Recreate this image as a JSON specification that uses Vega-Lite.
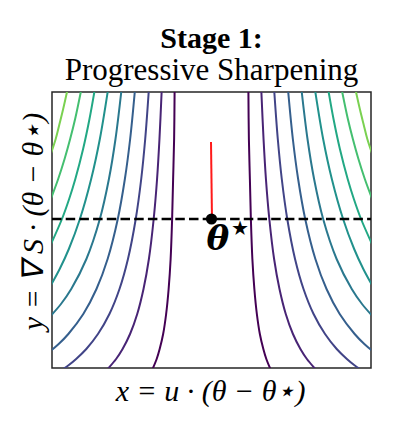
{
  "$schema": "https://vega.github.io/schema/vega-lite/v6.json",
  "width": 319,
  "height": 276,
  "autosize": {"type": "none"},
  "padding": {"left": 52, "top": 92, "right": 23, "bottom": 62},
  "background": "white",
  "config": {"view": {"stroke": "#262626", "strokeWidth": 1.5}, "font": "Liberation Serif"},
  "title": {
    "text": "Stage 1:",
    "subtitle": "Progressive Sharpening",
    "font": "Liberation Serif",
    "fontSize": 30,
    "fontWeight": "bold",
    "color": "black",
    "subtitleFont": "Liberation Serif",
    "subtitleFontSize": 31,
    "subtitleColor": "black",
    "subtitlePadding": 2,
    "offset": 6,
    "anchor": "middle",
    "frame": "group"
  },
  "datasets": {
    "contours": [
      {"c":"R1","k":1,"x":0.37,"y":1.3},{"c":"R1","k":1,"x":0.375,"y":0.8},{"c":"R1","k":1,"x":0.385,"y":0.4},{"c":"R1","k":1,"x":0.395,"y":0},{"c":"R1","k":1,"x":0.41,"y":-0.4},{"c":"R1","k":1,"x":0.43,"y":-0.7},{"c":"R1","k":1,"x":0.455,"y":-0.95},{"c":"R1","k":1,"x":0.485,"y":-1.15},{"c":"R1","k":1,"x":0.52,"y":-1.3},{"c":"R1","k":1,"x":0.55,"y":-1.4},{"c":"R1","k":1,"x":0.6,"y":-1.52},
      {"c":"R2","k":2,"x":0.499,"y":1.3},{"c":"R2","k":2,"x":0.522,"y":0.8},{"c":"R2","k":2,"x":0.546,"y":0.4},{"c":"R2","k":2,"x":0.58,"y":0},{"c":"R2","k":2,"x":0.628,"y":-0.4},{"c":"R2","k":2,"x":0.682,"y":-0.7},{"c":"R2","k":2,"x":0.745,"y":-0.95},{"c":"R2","k":2,"x":0.817,"y":-1.15},{"c":"R2","k":2,"x":0.892,"y":-1.3},{"c":"R2","k":2,"x":0.957,"y":-1.4},{"c":"R2","k":2,"x":1.06,"y":-1.52},
      {"c":"R3","k":3,"x":0.628,"y":1.3},{"c":"R3","k":3,"x":0.665,"y":0.8},{"c":"R3","k":3,"x":0.705,"y":0.4},{"c":"R3","k":3,"x":0.76,"y":0},{"c":"R3","k":3,"x":0.838,"y":-0.4},{"c":"R3","k":3,"x":0.923,"y":-0.7},{"c":"R3","k":3,"x":1.024,"y":-0.95},{"c":"R3","k":3,"x":1.139,"y":-1.15},{"c":"R3","k":3,"x":1.256,"y":-1.3},{"c":"R3","k":3,"x":1.358,"y":-1.4},{"c":"R3","k":3,"x":1.431,"y":-1.46},{"c":"R3","k":3,"x":1.517,"y":-1.52},
      {"c":"R4","k":4,"x":0.767,"y":1.3},{"c":"R4","k":4,"x":0.816,"y":0.8},{"c":"R4","k":4,"x":0.869,"y":0.4},{"c":"R4","k":4,"x":0.94,"y":0},{"c":"R4","k":4,"x":1.042,"y":-0.4},{"c":"R4","k":4,"x":1.154,"y":-0.7},{"c":"R4","k":4,"x":1.286,"y":-0.95},{"c":"R4","k":4,"x":1.436,"y":-1.15},{"c":"R4","k":4,"x":1.533,"y":-1.25},{"c":"R4","k":4,"x":1.653,"y":-1.35},
      {"c":"R5","k":5,"x":0.902,"y":1.3},{"c":"R5","k":5,"x":0.963,"y":0.8},{"c":"R5","k":5,"x":1.029,"y":0.4},{"c":"R5","k":5,"x":1.12,"y":0},{"c":"R5","k":5,"x":1.255,"y":-0.4},{"c":"R5","k":5,"x":1.407,"y":-0.7},{"c":"R5","k":5,"x":1.51,"y":-0.85},{"c":"R5","k":5,"x":1.642,"y":-1.0},
      {"c":"R6","k":6,"x":1.037,"y":1.3},{"c":"R6","k":6,"x":1.12,"y":0.8},{"c":"R6","k":6,"x":1.207,"y":0.4},{"c":"R6","k":6,"x":1.32,"y":0},{"c":"R6","k":6,"x":1.431,"y":-0.3},{"c":"R6","k":6,"x":1.523,"y":-0.5},{"c":"R6","k":6,"x":1.633,"y":-0.7},
      {"c":"R7","k":7,"x":1.17,"y":1.3},{"c":"R7","k":7,"x":1.224,"y":1.0},{"c":"R7","k":7,"x":1.288,"y":0.7},{"c":"R7","k":7,"x":1.366,"y":0.4},{"c":"R7","k":7,"x":1.428,"y":0.2},{"c":"R7","k":7,"x":1.5,"y":0},{"c":"R7","k":7,"x":1.633,"y":-0.3},
      {"c":"R8","k":8,"x":1.305,"y":1.3},{"c":"R8","k":8,"x":1.368,"y":1.0},{"c":"R8","k":8,"x":1.418,"y":0.8},{"c":"R8","k":8,"x":1.474,"y":0.6},{"c":"R8","k":8,"x":1.538,"y":0.4},{"c":"R8","k":8,"x":1.631,"y":0.15},
      {"c":"R9","k":9,"x":1.443,"y":1.3},{"c":"R9","k":9,"x":1.488,"y":1.1},{"c":"R9","k":9,"x":1.525,"y":0.95},{"c":"R9","k":9,"x":1.563,"y":0.8},{"c":"R9","k":9,"x":1.63,"y":0.6},
      {"c":"L1","k":1,"x":-0.37,"y":1.3},{"c":"L1","k":1,"x":-0.375,"y":0.8},{"c":"L1","k":1,"x":-0.385,"y":0.4},{"c":"L1","k":1,"x":-0.395,"y":0},{"c":"L1","k":1,"x":-0.41,"y":-0.4},{"c":"L1","k":1,"x":-0.43,"y":-0.7},{"c":"L1","k":1,"x":-0.455,"y":-0.95},{"c":"L1","k":1,"x":-0.485,"y":-1.15},{"c":"L1","k":1,"x":-0.52,"y":-1.3},{"c":"L1","k":1,"x":-0.55,"y":-1.4},{"c":"L1","k":1,"x":-0.6,"y":-1.52},
      {"c":"L2","k":2,"x":-0.499,"y":1.3},{"c":"L2","k":2,"x":-0.522,"y":0.8},{"c":"L2","k":2,"x":-0.546,"y":0.4},{"c":"L2","k":2,"x":-0.58,"y":0},{"c":"L2","k":2,"x":-0.628,"y":-0.4},{"c":"L2","k":2,"x":-0.682,"y":-0.7},{"c":"L2","k":2,"x":-0.745,"y":-0.95},{"c":"L2","k":2,"x":-0.817,"y":-1.15},{"c":"L2","k":2,"x":-0.892,"y":-1.3},{"c":"L2","k":2,"x":-0.957,"y":-1.4},{"c":"L2","k":2,"x":-1.06,"y":-1.52},
      {"c":"L3","k":3,"x":-0.628,"y":1.3},{"c":"L3","k":3,"x":-0.665,"y":0.8},{"c":"L3","k":3,"x":-0.705,"y":0.4},{"c":"L3","k":3,"x":-0.76,"y":0},{"c":"L3","k":3,"x":-0.838,"y":-0.4},{"c":"L3","k":3,"x":-0.923,"y":-0.7},{"c":"L3","k":3,"x":-1.024,"y":-0.95},{"c":"L3","k":3,"x":-1.139,"y":-1.15},{"c":"L3","k":3,"x":-1.256,"y":-1.3},{"c":"L3","k":3,"x":-1.358,"y":-1.4},{"c":"L3","k":3,"x":-1.431,"y":-1.46},{"c":"L3","k":3,"x":-1.517,"y":-1.52},
      {"c":"L4","k":4,"x":-0.767,"y":1.3},{"c":"L4","k":4,"x":-0.816,"y":0.8},{"c":"L4","k":4,"x":-0.869,"y":0.4},{"c":"L4","k":4,"x":-0.94,"y":0},{"c":"L4","k":4,"x":-1.042,"y":-0.4},{"c":"L4","k":4,"x":-1.154,"y":-0.7},{"c":"L4","k":4,"x":-1.286,"y":-0.95},{"c":"L4","k":4,"x":-1.436,"y":-1.15},{"c":"L4","k":4,"x":-1.533,"y":-1.25},{"c":"L4","k":4,"x":-1.653,"y":-1.35},
      {"c":"L5","k":5,"x":-0.902,"y":1.3},{"c":"L5","k":5,"x":-0.963,"y":0.8},{"c":"L5","k":5,"x":-1.029,"y":0.4},{"c":"L5","k":5,"x":-1.12,"y":0},{"c":"L5","k":5,"x":-1.255,"y":-0.4},{"c":"L5","k":5,"x":-1.407,"y":-0.7},{"c":"L5","k":5,"x":-1.51,"y":-0.85},{"c":"L5","k":5,"x":-1.642,"y":-1.0},
      {"c":"L6","k":6,"x":-1.037,"y":1.3},{"c":"L6","k":6,"x":-1.12,"y":0.8},{"c":"L6","k":6,"x":-1.207,"y":0.4},{"c":"L6","k":6,"x":-1.32,"y":0},{"c":"L6","k":6,"x":-1.431,"y":-0.3},{"c":"L6","k":6,"x":-1.523,"y":-0.5},{"c":"L6","k":6,"x":-1.633,"y":-0.7},
      {"c":"L7","k":7,"x":-1.17,"y":1.3},{"c":"L7","k":7,"x":-1.224,"y":1.0},{"c":"L7","k":7,"x":-1.288,"y":0.7},{"c":"L7","k":7,"x":-1.366,"y":0.4},{"c":"L7","k":7,"x":-1.428,"y":0.2},{"c":"L7","k":7,"x":-1.5,"y":0},{"c":"L7","k":7,"x":-1.633,"y":-0.3},
      {"c":"L8","k":8,"x":-1.305,"y":1.3},{"c":"L8","k":8,"x":-1.368,"y":1.0},{"c":"L8","k":8,"x":-1.418,"y":0.8},{"c":"L8","k":8,"x":-1.474,"y":0.6},{"c":"L8","k":8,"x":-1.538,"y":0.4},{"c":"L8","k":8,"x":-1.631,"y":0.15},
      {"c":"L9","k":9,"x":-1.443,"y":1.3},{"c":"L9","k":9,"x":-1.488,"y":1.1},{"c":"L9","k":9,"x":-1.525,"y":0.95},{"c":"L9","k":9,"x":-1.563,"y":0.8},{"c":"L9","k":9,"x":-1.63,"y":0.6}
    ],
    "dash": [{"x": -1.6, "y": 0}, {"x": 1.6, "y": 0}],
    "traj": [{"x": 0.005, "y": 0}, {"x": -0.005, "y": 0.77}],
    "pt": [{"x": 0, "y": 0}],
    "lab": [{"x": 0, "y": 0, "t": "θ", "s": "⋆"}]
  },
  "encoding": {
    "x": {
      "field": "x", "type": "quantitative",
      "scale": {"domain": [-1.6, 1.6], "nice": false, "zero": false},
      "axis": {"title": "x = u · (θ − θ⋆)", "labels": false, "ticks": false, "domain": false, "grid": false,
        "titleFont": "Liberation Serif", "titleFontStyle": "italic", "titleFontWeight": "normal", "titleFontSize": 30, "titleColor": "black", "titlePadding": 8, "titleX": 158}
    },
    "y": {
      "field": "y", "type": "quantitative",
      "scale": {"domain": [-1.49, 1.27], "nice": false, "zero": false},
      "axis": {"title": "y = ∇ S · (θ − θ⋆)", "labels": false, "ticks": false, "domain": false, "grid": false,
        "titleFont": "Liberation Serif", "titleFontStyle": "italic", "titleFontWeight": "normal", "titleFontSize": 30, "titleColor": "black", "titlePadding": 4, "titleY": 129}
    }
  },
  "layer": [
    {
      "data": {"name": "contours"},
      "mark": {"type": "line", "strokeWidth": 2, "clip": true, "interpolate": "catmull-rom"},
      "encoding": {
        "color": {"field": "k", "type": "ordinal", "legend": null,
          "scale": {"domain": [1,2,3,4,5,6,7,8,9], "range": ["#440154","#482475","#414487","#355f8d","#2a788e","#21918c","#22a884","#44bf70","#7ad151"]}},
        "detail": {"field": "c"},
        "order": {"field": "y", "sort": "descending"}
      }
    },
    {
      "data": {"name": "dash"},
      "mark": {"type": "line", "color": "black", "strokeWidth": 2.6, "strokeDash": [9.5, 4.2], "clip": true}
    },
    {
      "data": {"name": "traj"},
      "mark": {"type": "line", "color": "#ff1a1a", "strokeWidth": 2},
      "encoding": {"order": {"field": "y", "sort": "ascending"}}
    },
    {
      "data": {"name": "pt"},
      "mark": {"type": "circle", "color": "black", "opacity": 1, "size": 125}
    },
    {
      "data": {"name": "lab"},
      "mark": {"type": "text", "font": "DejaVu Serif", "fontStyle": "italic", "fontWeight": "bold", "fontSize": 34, "align": "left", "baseline": "alphabetic", "dx": -5, "dy": 31, "color": "black"},
      "encoding": {"text": {"field": "t"}}
    },
    {
      "data": {"name": "lab"},
      "mark": {"type": "text", "font": "DejaVu Sans", "fontSize": 40, "align": "left", "baseline": "alphabetic", "dx": 16, "dy": 22, "color": "black"},
      "encoding": {"text": {"field": "s"}}
    }
  ]
}
